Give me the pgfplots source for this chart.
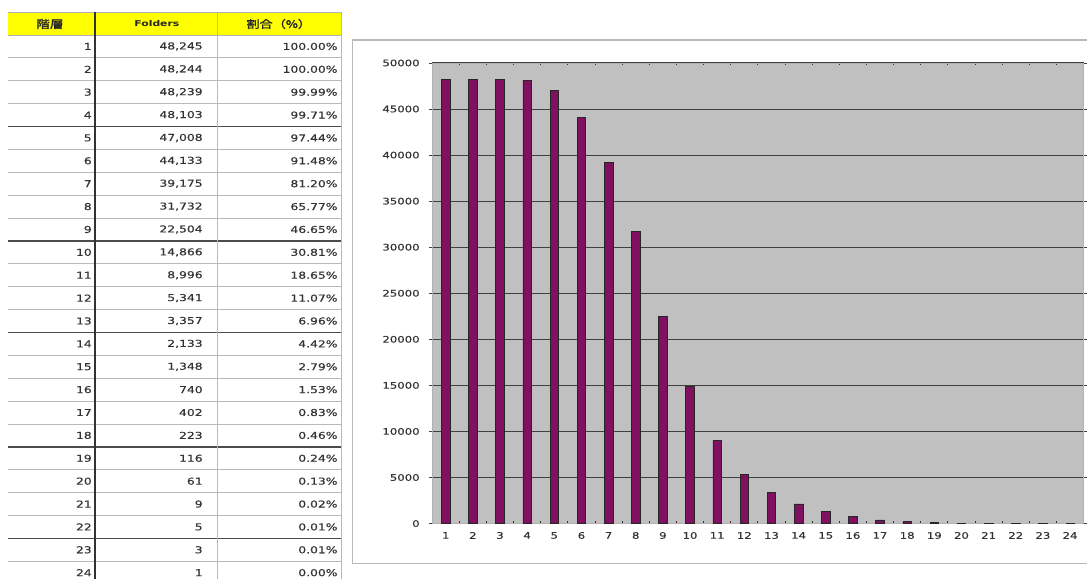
\documentclass[border=0pt]{standalone}
\usepackage{pgfplots}
\pgfplotsset{compat=1.18}
\usepackage{fontspec}
\setmainfont{DejaVu Sans}
\newfontfamily\tickfont[FakeStretch=1.3, FakeBold=0.4]{DejaVu Sans}
\newfontfamily\hdrfont[FakeStretch=1.35]{DejaVu Sans Bold}
\newfontfamily\cjk[FakeStretch=1.25, FakeBold=1.5]{Noto Sans CJK JP}
\definecolor{barc}{RGB}{128,16,96}
\definecolor{plotbg}{RGB}{192,192,192}
\definecolor{hdr}{RGB}{255,255,0}
\begin{document}
\begin{tikzpicture}
\begin{scope}[x=1pt,y=-1pt]
\useasboundingbox (0,0) rectangle (1087,579);
% table header
\fill[hdr] (8,12) rectangle (342,35);
\draw[gray!60, line width=0.8pt] (8,12) -- (342,12);
\draw[gray!60, line width=0.8pt] (8,35) -- (342,35);
\foreach \k in {1,...,23} {\draw[gray!55, line width=0.8pt] (8,{35+22.9*\k}) -- (342,{35+22.9*\k});}
\foreach \k in {4,9,13,18,22} {\draw[black!70, line width=1.5pt] (8,{35+22.9*\k}) -- (342,{35+22.9*\k});}
\draw[black!80, line width=2pt] (95,12) -- (95,579);
\draw[gray!55, line width=0.8pt] (218,12) -- (218,579);
\draw[gray!55, line width=0.8pt] (342,12) -- (342,579);
\node[font=\cjk\fontsize{11}{12}\selectfont, text=black!85] at (50,24) {階層};
\node[font=\hdrfont\fontsize{8}{9}\selectfont, text=black!85] at (157,24) {Folders};
\node[font=\cjk\fontsize{10.5}{12}\selectfont, text=black!85] at (279,24) {割合（\%）};
\foreach \i/\f/\p in {1/{48,245}/{100.00\%},2/{48,244}/{100.00\%},3/{48,239}/{99.99\%},4/{48,103}/{99.71\%},5/{47,008}/{97.44\%},6/{44,133}/{91.48\%},7/{39,175}/{81.20\%},8/{31,732}/{65.77\%},9/{22,504}/{46.65\%},10/{14,866}/{30.81\%},11/{8,996}/{18.65\%},12/{5,341}/{11.07\%},13/{3,357}/{6.96\%},14/{2,133}/{4.42\%},15/{1,348}/{2.79\%},16/{740}/{1.53\%},17/{402}/{0.83\%},18/{223}/{0.46\%},19/{116}/{0.24\%},20/{61}/{0.13\%},21/{9}/{0.02\%},22/{5}/{0.01\%},23/{3}/{0.01\%},24/{1}/{0.00\%}} {
  \pgfmathsetmacro{\yy}{35+22.9*(\i-1)+11.45}
  \node[anchor=east, font=\tickfont\fontsize{9.5}{10}\selectfont, text=black!80, inner sep=0pt] at (92,\yy) {\i};
  \node[anchor=east, font=\tickfont\fontsize{9.5}{10}\selectfont, text=black!80, inner sep=0pt] at (203,\yy) {\f};
  \node[anchor=east, font=\tickfont\fontsize{9.5}{10}\selectfont, text=black!80, inner sep=0pt] at (338,\yy) {\p};
}
% chart frame
\draw[gray!55, line width=1.3pt] (1090,40) -- (353,40) -- (353,564) -- (1090,564);
\end{scope}
\begin{axis}[at={(432.5pt,-524pt)}, anchor=south west,
  width=652pt, height=461pt, scale only axis,
  xmin=0.5, xmax=24.5, ymin=0, ymax=50000,
  ybar, bar width=8.5pt,
  axis background/.style={fill=plotbg},
  axis line style={draw=gray!60, line width=0.9pt},
  ymajorgrids, grid style={black!75, line width=1pt},
  ytick={0,5000,...,50000},
  xtick={1,...,24},
  minor xtick={1.5,2.5,...,23.5},
  major x tick style={draw=none},
  minor x tick style={black!80, line width=0.8pt},
  minor tick length=2.5pt,
  xtick align=inside,
  y tick style={black!75, line width=0.8pt},
  ytick align=outside, major tick length=3pt,
  scaled y ticks=false,
  yticklabel style={/pgf/number format/set thousands separator={}, /pgf/number format/fixed, xshift=-6pt},
  xticklabel style={yshift=-5pt},
  tick label style={font=\tickfont\fontsize{9}{10}\selectfont, text=black!80},
  /pgf/number format/assume math mode=true,
  clip=false]
\addplot[fill=barc, draw=black!85, line width=0.6pt, bar shift=0pt] coordinates {
(1,48245) (2,48244) (3,48239) (4,48103) (5,47008) (6,44133) (7,39175) (8,31732)
(9,22504) (10,14866) (11,8996) (12,5341) (13,3357) (14,2133) (15,1348) (16,740)
(17,402) (18,223) (19,116) (20,61) (21,9) (22,5) (23,3) (24,1)};
\end{axis}
\end{tikzpicture}
\end{document}
